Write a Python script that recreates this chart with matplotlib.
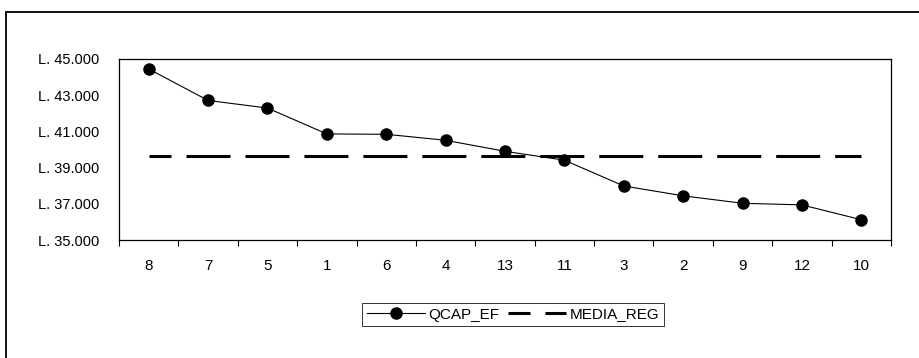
import matplotlib.pyplot as plt
from matplotlib.lines import Line2D

# Dati
categorie = ['8', '7', '5', '1', '6', '4', '13', '11', '3', '2', '9', '12', '10']
qcap_ef = [44450, 42710, 42290, 40860, 40840, 40510, 39900, 39410,
           37985, 37440, 37030, 36940, 36120]
media_reg = 39630
y_ticks = [35000, 37000, 39000, 41000, 43000, 45000]
y_labels = ['L. 35.000', 'L. 37.000', 'L. 39.000', 'L. 41.000', 'L. 43.000', 'L. 45.000']

plt.rcParams['font.family'] = ['Liberation Sans', 'DejaVu Sans']

fig = plt.figure(figsize=(9.19, 3.58), dpi=100)
ax = fig.add_axes([119 / 919, 1 - 240 / 358, 772 / 919, 181 / 358])

x = list(range(len(categorie)))

# QCAP_EF
ax.plot(x, qcap_ef, color='black', linewidth=0.8, marker='o',
        markersize=8, label='QCAP_EF')

# MEDIA_REG (linea tratteggiata)
ax.plot(x, [media_reg] * len(x), color='black', linewidth=2.2,
        linestyle=(7.2, (14.4, 4.9)), label='MEDIA_REG')

ax.set_xlim(-0.5, len(x) - 0.5)
ax.set_ylim(35000, 45000)
ax.set_yticks(y_ticks)
ax.set_yticklabels(y_labels, fontsize=10.5)
ax.tick_params(axis='y', length=0, pad=14)

ax.set_xticks(x)
ax.set_xticklabels(categorie, fontsize=11)
ax.tick_params(axis='x', which='major', length=0, pad=14)
ax.set_xticks([i + 0.5 for i in range(-1, len(x))], minor=True)
ax.tick_params(axis='x', which='minor', length=4, direction='out', width=0.8)

for s in ax.spines.values():
    s.set_linewidth(0.9)

fig.legend(loc='center', bbox_to_anchor=(513 / 919, 1 - 314.5 / 358), ncol=2,
           fontsize=11, frameon=True, fancybox=False, edgecolor='black',
           handlelength=3.8, handletextpad=0.2, columnspacing=0.6,
           borderpad=0.3, numpoints=1).get_frame().set_linewidth(0.7)

# Cornice esterna (solo lati sinistro e superiore visibili)
y_top = 1 - 12 / 358
x_left = 6 / 919
fig.add_artist(Line2D([x_left, x_left], [0, y_top], color='black', linewidth=1.3))
fig.add_artist(Line2D([x_left, 1], [y_top, y_top], color='black', linewidth=1.3))

fig.savefig('out.png', dpi=100)
